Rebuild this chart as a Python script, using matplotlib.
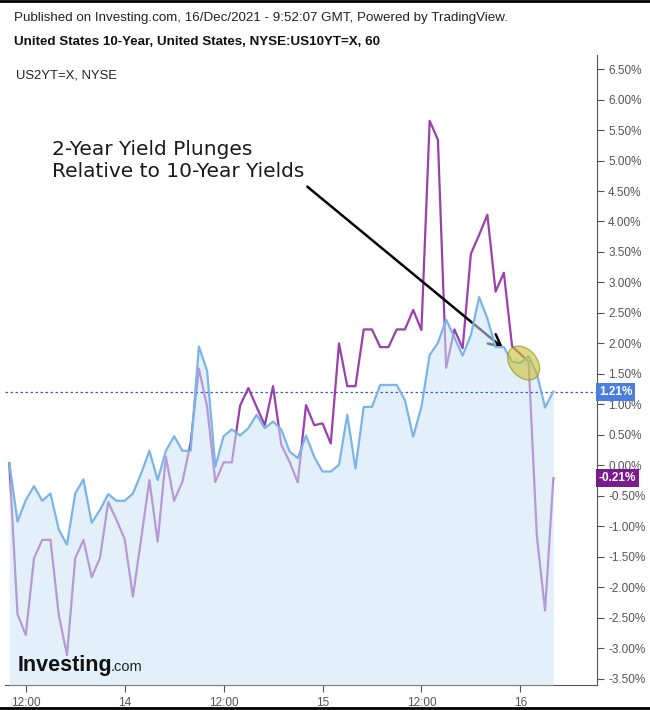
import numpy as np
import matplotlib
matplotlib.use("Agg")
import matplotlib.pyplot as plt
from matplotlib.patches import Ellipse
from matplotlib.transforms import ScaledTranslation

plt.rcParams['font.family'] = ['Liberation Sans', 'DejaVu Sans']

# hourly closes from 13 Dec 10:00 (hour 0) to 16 Dec 04:00, percent change
us10y = [0.04, -0.92, -0.57, -0.34, -0.58, -0.46, -1.05, -1.30, -0.46, -0.23,
         -0.94, -0.73, -0.47, -0.58, -0.58, -0.46, -0.13, 0.24, -0.24, 0.24,
         0.48, 0.24, 0.24, 1.95, 1.55, -0.02, 0.48, 0.59, 0.49, 0.61,
         0.83, 0.61, 0.72, 0.59, 0.23, 0.12, 0.49, 0.14, -0.10, -0.10,
         0.01, 0.83, -0.05, 0.96, 0.96, 1.32, 1.32, 1.32, 1.07, 0.47,
         0.96, 1.81, 2.01, 2.39, 2.10, 1.80, 2.14, 2.76, 2.41, 1.94,
         1.94, 1.70, 1.68, 1.79, 1.51, 0.95, 1.21]
us2y = [0.04, -2.44, -2.78, -1.52, -1.22, -1.22, -2.45, -3.11, -1.52, -1.22,
        -1.83, -1.52, -0.60, -0.89, -1.21, -2.15, -1.20, -0.24, -1.25, 0.14,
        -0.58, -0.27, 0.37, 1.59, 0.96, -0.27, 0.05, 0.05, 0.98, 1.27,
        0.96, 0.66, 1.30, 0.34, 0.06, -0.28, 0.99, 0.66, 0.69, 0.36,
        2.00, 1.30, 1.30, 2.23, 2.23, 1.94, 1.94, 2.23, 2.23, 2.55,
        2.22, 5.65, 5.34, 1.60, 2.23, 1.92, 3.47, 3.78, 4.11, 2.85,
        3.16, 1.95, 1.83, 1.70, -1.15, -2.38, -0.21]
hours = np.arange(len(us10y))

tick_hours = [2, 14, 26, 38, 50, 62]
tick_labels = ['12:00', '14', '12:00', '15', '12:00', '16']
y_ticks = np.arange(-3.5, 6.51, 0.5)

blue = '#7ab4e8'
purple = '#9c3fae'
grey = '#555555'

fig = plt.figure(figsize=(6.5, 7.1), dpi=100)
ax = fig.add_axes([5 / 650, 25 / 710, 592 / 650, 630 / 710])
ax.set_xlim(-0.52, 71.3)
ax.set_ylim(-3.6, 6.73)

# purple under the fill so it looks paler where it's below the 10y line
ax.plot(hours, us2y, color=purple, lw=1.6, zorder=2)
ax.annotate('', xy=(60.2, 1.89), xytext=(35.9, 4.6),
            arrowprops=dict(arrowstyle='->', color='black', lw=1.8,
                            mutation_scale=22), zorder=2.5)
ax.fill_between(hours, us10y, -3.6, color='#cce4f6', alpha=0.55, lw=0, zorder=3)
ax.plot(hours, us10y, color=blue, lw=1.6, zorder=4)
ax.axhline(us10y[-1], color='#3a5fc0', lw=0.9, ls=(0, (2, 2)), zorder=3.5)

# highlight circle
tr = fig.dpi_scale_trans + ScaledTranslation(62.4, 1.68, ax.transData)
ax.add_patch(Ellipse((0, 0), 0.38, 0.27, angle=-50, transform=tr,
                     facecolor='#c8c030', edgecolor='#9a8a10', alpha=0.6,
                     lw=1, zorder=5))

ax.text(47 / 592, 5.0, '2-Year Yield Plunges\nRelative to 10-Year Yields',
        transform=ax.get_yaxis_transform(), fontsize=14.5, family='DejaVu Sans',
        color='#1a1a1a', linespacing=1.15, va='center', ha='left')

for s in ['left', 'top']:
    ax.spines[s].set_visible(False)
ax.spines['right'].set_color('#555555')
ax.spines['bottom'].set_color('#555555')
ax.yaxis.tick_right()
ax.set_yticks(y_ticks)
ax.set_yticklabels([f'{v:.2f}%' for v in y_ticks])
ax.set_xticks(tick_hours)
ax.set_xticklabels(tick_labels)
ax.tick_params(axis='both', colors='#555555', labelcolor=grey, labelsize=8.5,
               length=5, width=0.8)
ax.tick_params(axis='y', pad=3)

# last value labels
ax.text(1.003, us10y[-1], f'{us10y[-1]:.2f}%', transform=ax.get_yaxis_transform(),
        color='white', fontsize=8.5, weight='bold', va='center', ha='left',
        bbox=dict(boxstyle='square,pad=0.25', fc='#4a7fe0', ec='none'), zorder=10)
ax.text(1.003, us2y[-1], f'{us2y[-1]:.2f}%', transform=ax.get_yaxis_transform(),
        color='white', fontsize=8.5, weight='bold', va='center', ha='left',
        bbox=dict(boxstyle='square,pad=0.25', fc='#7a1a8c', ec='none'), zorder=10)

fig.text(14 / 650, 1 - 18 / 710,
         'Published on Investing.com, 16/Dec/2021 - 9:52:07 GMT, Powered by TradingView.',
         fontsize=9.6, color='#222222', va='center')
fig.text(14 / 650, 1 - 42 / 710,
         'United States 10-Year, United States, NYSE:US10YT=X, 60',
         fontsize=9.6, weight='bold', color='#111111', va='center')
fig.text(16 / 650, 1 - 75 / 710, 'US2YT=X, NYSE', fontsize=9.4, color='#222222',
         va='center')

# logo
logo = fig.text(18 / 650, 1 - 671 / 710, 'Investing', fontsize=15.5, weight='bold',
                color='#111111', va='baseline')
fig.canvas.draw()
bb = logo.get_window_extent()
fig.text((bb.x1 - 2) / 650, 1 - 671 / 710, '.com', fontsize=10.5,
         color='#222222', va='baseline')

fig.add_artist(plt.Line2D([0, 1], [0.998, 0.998], color='black', lw=2))
fig.add_artist(plt.Line2D([0, 1], [0.003, 0.003], color='black', lw=2))

fig.savefig('out.png', dpi=100)
